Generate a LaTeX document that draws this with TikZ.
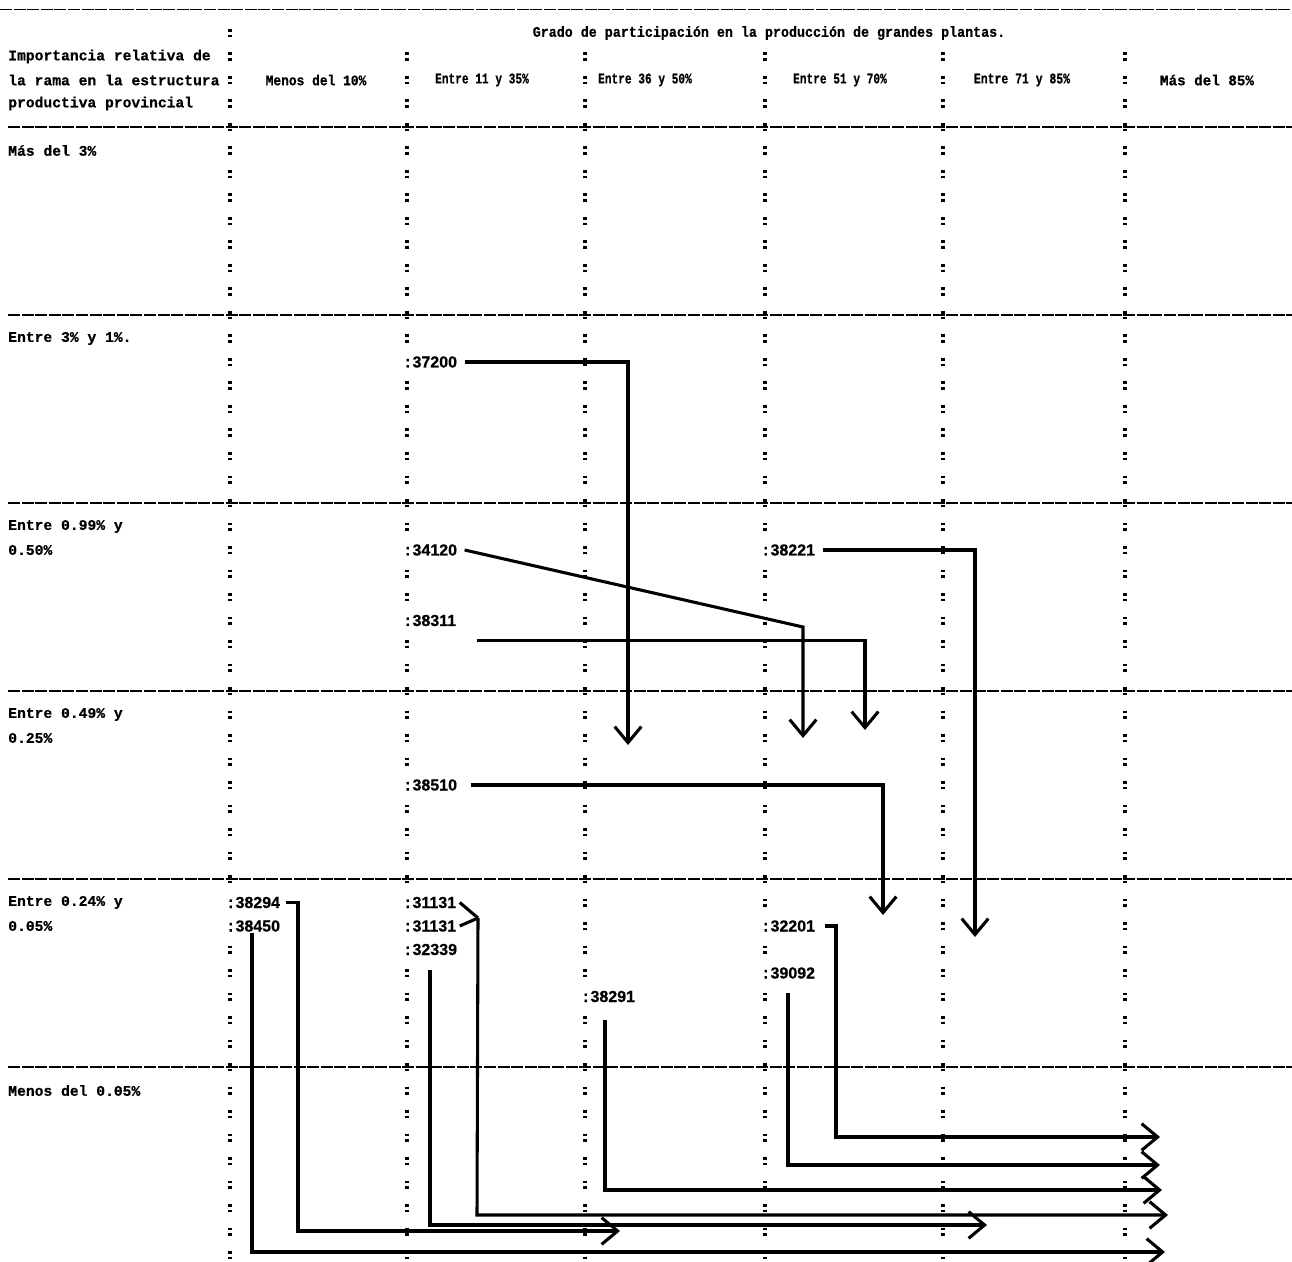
\documentclass[tikz,border=0pt]{standalone}
\usepackage{fontspec}
\usepackage{graphicx}
\setmainfont{Liberation Mono}
\newfontfamily\twfont{Liberation Mono}[BoldFeatures={FakeBold=0.6}]
\newfontfamily\numfont{Liberation Sans}[BoldFeatures={FakeBold=0.6}]
\usetikzlibrary{arrows.meta}
\newcommand{\lab}[1]{{\twfont :}#1}
\newcommand{\cond}[2]{\scalebox{#1}[1]{#2}}
\begin{document}
\begin{tikzpicture}[x=0.75pt,y=-0.75pt,
  tw/.style={font=\twfont\fontsize{11}{13}\selectfont\bfseries, inner sep=0pt, anchor=west},
  twc/.style={tw, anchor=center},
  num/.style={font=\numfont\fontsize{12}{13}\selectfont\bfseries, inner sep=0.5pt, anchor=west, fill=white},
  hrule/.style={line width=1.2pt, dash pattern=on 9pt off 1.2pt},
  sep/.style={line width=2.6pt, dash pattern=on 2pt off 2.2pt on 2pt off 11.425pt},
  conn/.style={line width=2.3pt},
  tipv/.style={conn, -{Straight Barb[length=12pt,width=20pt]}},
]
\fill[white] (0,0) rectangle (1292,1262);
\useasboundingbox (0,0) rectangle (1292,1262);

% horizontal rules
\draw[hrule] (0,9.5) -- (1292,9.5);
\foreach \yy in {127,315,503,691,879,1067} \draw[hrule] (8,\yy) -- (1292,\yy);

% column separators (typed colons)
\draw[sep] (230,29) -- (230,1260);
\foreach \xx in {407,585,765,943,1125} \draw[sep] (\xx,52.5) -- (\xx,1260);

% header texts
\node[twc] (grado) at (769,33) {\cond{0.91}{Grado de participación en la producción de grandes plantas.}};
\node[tw] (h1) at (8,56.5) {Importancia relativa de};
\node[tw] (h2) at (8,80) {la rama en la estructura};
\node[tw] (h3) at (8,103.5) {productiva provincial};
\node[twc] (c1) at (316,80) {\cond{0.88}{Menos del 10\%}};
\node[twc] (c2) at (482,80) {\cond{0.76}{Entre 11 y 35\%}};
\node[twc] (c3) at (645,80) {\cond{0.76}{Entre 36 y 50\%}};
\node[twc] (c4) at (840,80) {\cond{0.76}{Entre 51 y 70\%}};
\node[twc] (c5) at (1022,80) {\cond{0.78}{Entre 71 y 85\%}};
\node[twc] (c6) at (1207,80) {\cond{0.97}{Más del 85\%}};

% row labels
\node[tw] (r1) at (8,150.5) {Más del 3\%};
\node[tw] (r2) at (8,338.5) {Entre 3\% y 1\%.};
\node[tw] (r3a) at (8,526.5) {Entre 0.99\% y};
\node[tw] (r3b) at (8,550) {0.50\%};
\node[tw] (r4a) at (8,714.5) {Entre 0.49\% y};
\node[tw] (r4b) at (8,738) {0.25\%};
\node[tw] (r5a) at (8,902.5) {Entre 0.24\% y};
\node[tw] (r5b) at (8,926) {0.05\%};
\node[tw] (r6) at (8,1090.5) {Menos del 0.05\%};

% branch codes
\node[num] (L37200) at (402,362) {\lab{37200}};
\node[num] (L34120) at (402,550) {\lab{34120}};
\node[num] (L38311) at (402,620.5) {\lab{38311}};
\node[num] (L38221) at (760,550) {\lab{38221}};
\node[num] (L38510) at (402,785) {\lab{38510}};
\node[num] (L38294) at (225,902.5) {\lab{38294}};
\node[num] (L38450) at (225,926) {\lab{38450}};
\node[num] (L31131a) at (402,902.5) {\lab{31131}};
\node[num] (L31131b) at (402,926) {\lab{31131}};
\node[num] (L32339) at (402,949.5) {\lab{32339}};
\node[num] (L32201) at (760,926) {\lab{32201}};
\node[num] (L39092) at (760,973) {\lab{39092}};
\node[num] (L38291) at (580,996.5) {\lab{38291}};

% connector points
\coordinate (t1) at (628,745);
\coordinate (b2) at (803,627);
\coordinate (t2) at (803,738);
\coordinate (t3) at (865,730);
\coordinate (t4) at (975,937);
\coordinate (t5) at (883,915);
\coordinate (c6p) at (298,1231);
\coordinate (t6) at (620,1231);
\coordinate (c7) at (252,1252);
\coordinate (t7) at (1165,1252);
\coordinate (v8) at (478,918);
\coordinate (c8) at (477,1215);
\coordinate (t8) at (1168,1215);
\coordinate (s9) at (430,970);
\coordinate (c9) at (430,1225);
\coordinate (t9) at (987,1225);
\coordinate (s10) at (605,1020);
\coordinate (c10) at (605,1190);
\coordinate (t10) at (1162,1190);
\coordinate (s11) at (788,993);
\coordinate (c11) at (788,1165);
\coordinate (t11) at (1160,1165);
\coordinate (c12) at (836,1137);
\coordinate (t12) at (1160,1137);

% connectors
\draw[tipv] ([xshift=5pt]L37200.east) -| (t1);
\draw[tipv] ([xshift=5pt]L34120.east) -- (b2) -- (t2);
\draw[tipv] ([shift={(15pt,-15pt)}]L38311.east) -| (t3);
\draw[tipv] ([xshift=5pt]L38221.east) -| (t4);
\draw[tipv] ([xshift=10pt]L38510.east) -| (t5);
\draw[tipv] ([xshift=4pt]L38294.east) -| (c6p) -- (t6);
\draw[tipv] (c7 |- L38450.south) -- (c7) -- (t7);
\draw[conn] ([xshift=2pt]L31131a.east) -- (v8);
\draw[conn] ([xshift=2pt]L31131b.east) -- (v8);
\draw[tipv] (v8) -- (c8) -- (t8);
\draw[tipv] (s9) -- (c9) -- (t9);
\draw[tipv] (s10) -- (c10) -- (t10);
\draw[tipv] (s11) -- (c11) -- (t11);
\draw[tipv] ([xshift=7pt]L32201.east) -| (c12) -- (t12);
\end{tikzpicture}
\end{document}
